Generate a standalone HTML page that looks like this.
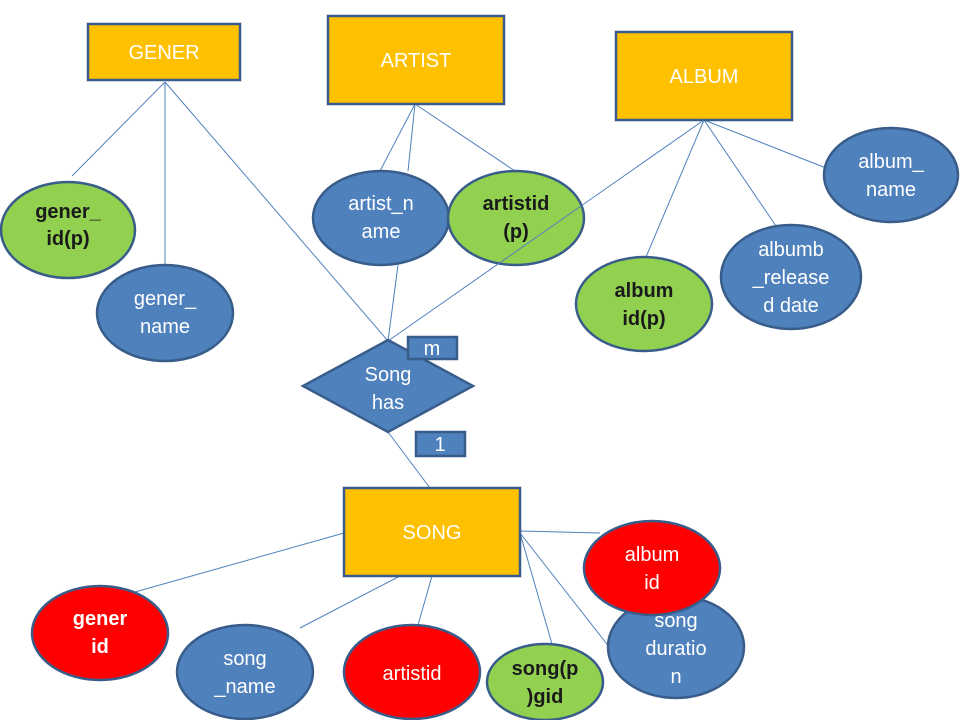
<!DOCTYPE html>
<html><head><meta charset="utf-8"><style>
html,body{margin:0;padding:0;background:#fff;}
svg text{font-family:"Liberation Sans",sans-serif;font-size:20px;text-anchor:middle;}
.w{fill:#fff}.d{fill:#1a1a1a;font-weight:bold}.b{fill:#fff;font-weight:bold}
</style></head><body>
<svg width="960" height="720" viewBox="0 0 960 720" xmlns="http://www.w3.org/2000/svg">
<g stroke="#4f81bd" stroke-width="1" fill="none">
<line x1="165" y1="82" x2="72" y2="176"/>
<line x1="165" y1="82" x2="165" y2="266"/>
<line x1="165" y1="82" x2="388" y2="341"/>
<line x1="415" y1="104" x2="380" y2="171"/>
<line x1="415" y1="104" x2="408" y2="171"/>
<line x1="415" y1="104" x2="515" y2="171"/>
<line x1="398" y1="265" x2="388" y2="341"/>
<line x1="704" y1="120" x2="646" y2="257"/>
<line x1="704" y1="120" x2="776" y2="226"/>
<line x1="704" y1="120" x2="826" y2="168"/>
<line x1="388" y1="432" x2="430" y2="488"/>
<line x1="344" y1="533" x2="135" y2="592"/>
<line x1="400" y1="576" x2="300" y2="628"/>
<line x1="432" y1="576" x2="418" y2="625"/>
<line x1="520" y1="531" x2="600" y2="533"/>
<line x1="520" y1="533" x2="552" y2="644"/>
<line x1="520" y1="533" x2="610" y2="648"/>
</g>
<g stroke="#385d8a" stroke-width="2.5">
<rect x="88" y="24" width="152" height="56" fill="#ffc000"/>
<rect x="328" y="16" width="176" height="88" fill="#ffc000"/>
<rect x="616" y="32" width="176" height="88" fill="#ffc000"/>
<rect x="344" y="488" width="176" height="88" fill="#ffc000"/>
<ellipse cx="68" cy="230" rx="67" ry="48" fill="#92d050"/>
<ellipse cx="165" cy="313" rx="68" ry="48" fill="#4f81bd"/>
<ellipse cx="381" cy="218" rx="68" ry="47" fill="#4f81bd"/>
<ellipse cx="516" cy="218" rx="68" ry="47" fill="#92d050"/>
<ellipse cx="891" cy="175" rx="67" ry="47" fill="#4f81bd"/>
<ellipse cx="791" cy="277" rx="70" ry="52" fill="#4f81bd"/>
<ellipse cx="644" cy="304" rx="68" ry="47" fill="#92d050"/>
<ellipse cx="100" cy="633" rx="68" ry="47" fill="#ff0000"/>
<ellipse cx="245" cy="672" rx="68" ry="47" fill="#4f81bd"/>
<ellipse cx="412" cy="672" rx="68" ry="47" fill="#ff0000"/>
<ellipse cx="545" cy="682" rx="58" ry="38" fill="#92d050"/>
<ellipse cx="676" cy="647" rx="68" ry="51" fill="#4f81bd"/>
<ellipse cx="652" cy="568" rx="68" ry="47" fill="#ff0000"/>
</g>
<line x1="704" y1="120" x2="388" y2="341" stroke="#4f81bd" stroke-width="1"/>
<g stroke="#385d8a" stroke-width="2.5">
<polygon points="388,340 473,386 388,432 303,386" fill="#4f81bd"/>
<rect x="408" y="337" width="49" height="22" fill="#4f81bd"/>
<rect x="416" y="432" width="49" height="24" fill="#4f81bd"/>
</g>
<text class="w" x="164" y="59">GENER</text>
<text class="w" x="416" y="67">ARTIST</text>
<text class="w" x="704" y="83">ALBUM</text>
<text class="w" x="432" y="539">SONG</text>
<text class="d" x="68" y="218">gener_</text><text class="d" x="68" y="245">id(p)</text>
<text class="w" x="165" y="305">gener_</text><text class="w" x="165" y="333">name</text>
<text class="w" x="381" y="210">artist_n</text><text class="w" x="381" y="238">ame</text>
<text class="d" x="516" y="210">artistid</text><text class="d" x="516" y="238">(p)</text>
<text class="w" x="891" y="168">album_</text><text class="w" x="891" y="196">name</text>
<text class="w" x="791" y="256">albumb</text><text class="w" x="791" y="284">_release</text><text class="w" x="791" y="312">d date</text>
<text class="d" x="644" y="297">album</text><text class="d" x="644" y="325">id(p)</text>
<text class="b" x="100" y="625">gener</text><text class="b" x="100" y="653">id</text>
<text class="w" x="245" y="665">song</text><text class="w" x="245" y="693">_name</text>
<text class="w" x="412" y="680">artistid</text>
<text class="d" x="545" y="675">song(p</text><text class="d" x="545" y="703">)gid</text>
<text class="w" x="676" y="627">song</text><text class="w" x="676" y="655">duratio</text><text class="w" x="676" y="683">n</text>
<text class="w" x="652" y="561">album</text><text class="w" x="652" y="589">id</text>
<text class="w" x="388" y="381">Song</text><text class="w" x="388" y="409">has</text>
<text class="w" x="432" y="355">m</text>
<text class="w" x="440" y="451">1</text>
</svg>
</body></html>
